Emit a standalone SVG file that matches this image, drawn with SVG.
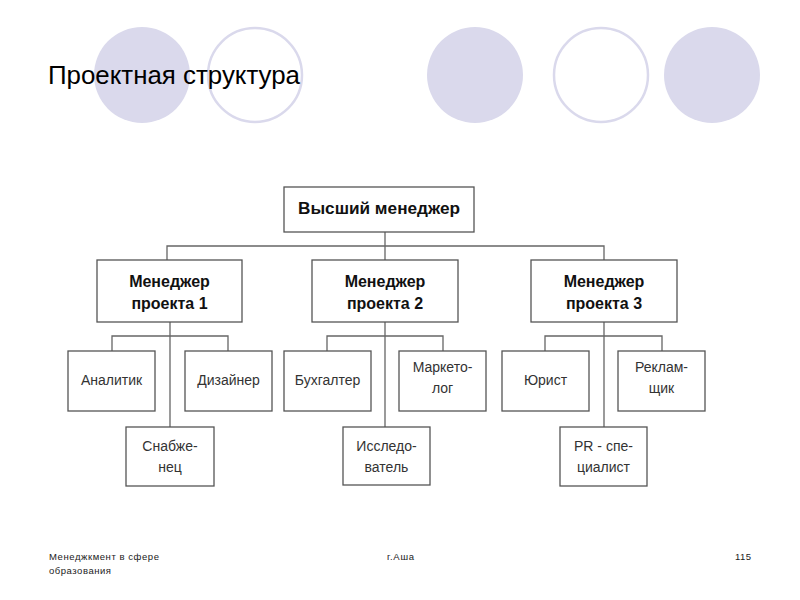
<svg xmlns="http://www.w3.org/2000/svg" width="800" height="600" viewBox="0 0 800 600">
<style>
.cf{fill:#dad9ec;stroke:none}
.co{fill:#fff;stroke:#dad9ec;stroke-width:2.5}
.box{fill:#fff;stroke:#555;stroke-width:1.3}
.ln{fill:none;stroke:#666;stroke-width:1.3}
.b{font-family:"Liberation Sans",Arial,sans-serif;font-weight:bold;font-size:16px;fill:#111;text-anchor:middle}
.r{font-family:"Liberation Sans",Arial,sans-serif;font-size:14px;fill:#333;text-anchor:middle}
.ft{font-family:"Liberation Sans",Arial,sans-serif;font-size:9.5px;fill:#222}
</style>
<rect width="800" height="600" fill="#fff"/>
<g id="decor">
<circle class="cf" cx="142" cy="75" r="48"/>
<circle class="co" cx="255" cy="75" r="47"/>
<circle class="cf" cx="475" cy="75" r="48"/>
<circle class="co" cx="601" cy="75" r="47"/>
<circle class="cf" cx="712" cy="75" r="48"/>
</g>
<text x="48" y="84" font-family="'Liberation Sans',Arial,sans-serif" font-size="25" fill="#000" textLength="252" lengthAdjust="spacingAndGlyphs">Проектная структура</text>
<g id="connectors">
<path class="ln" d="M385 232V260M167 260V246H604V260"/>
<path class="ln" d="M170 322V427M112 351V336H228V351"/>
<path class="ln" d="M385 322V427M327 351V336H443V351"/>
<path class="ln" d="M604 322V427M545 351V336H662V351"/>
</g>
<g id="top"><rect class="box" x="284" y="187" width="190" height="45"/><text class="b" x="379" y="214" font-size="17.5" textLength="162" lengthAdjust="spacingAndGlyphs">Высший менеджер</text></g>
<g id="pm1"><rect class="box" x="97" y="260" width="145" height="62"/><text class="b" x="169.5" y="287">Менеджер</text><text class="b" x="169.5" y="309">проекта 1</text></g>
<g id="pm2"><rect class="box" x="312" y="260" width="146" height="62"/><text class="b" x="385" y="287">Менеджер</text><text class="b" x="385" y="309">проекта 2</text></g>
<g id="pm3"><rect class="box" x="531" y="260" width="146" height="62"/><text class="b" x="604" y="287">Менеджер</text><text class="b" x="604" y="309">проекта 3</text></g>
<g id="analyst"><rect class="box" x="68" y="351" width="87" height="60"/><text class="r" x="111.5" y="385">Аналитик</text></g>
<g id="designer"><rect class="box" x="185" y="351" width="87" height="60"/><text class="r" x="228.5" y="385">Дизайнер</text></g>
<g id="supplier"><rect class="box" x="126" y="427" width="88" height="59"/><text class="r" x="170" y="451">Снабже-</text><text class="r" x="170" y="472">нец</text></g>
<g id="accountant"><rect class="box" x="284" y="351" width="87" height="60"/><text class="r" x="327.5" y="385">Бухгалтер</text></g>
<g id="marketer"><rect class="box" x="399" y="351" width="87" height="60"/><text class="r" x="442.5" y="372">Маркето-</text><text class="r" x="442.5" y="393">лог</text></g>
<g id="researcher"><rect class="box" x="343" y="427" width="87" height="58"/><text class="r" x="386.5" y="451">Исследо-</text><text class="r" x="386.5" y="472">ватель</text></g>
<g id="lawyer"><rect class="box" x="502" y="351" width="87" height="60"/><text class="r" x="545.5" y="385">Юрист</text></g>
<g id="adman"><rect class="box" x="618" y="351" width="87" height="60"/><text class="r" x="661.5" y="372">Реклам-</text><text class="r" x="661.5" y="393">щик</text></g>
<g id="pr"><rect class="box" x="560" y="427" width="87" height="59"/><text class="r" x="603.5" y="451">PR - спе-</text><text class="r" x="603.5" y="472">циалист</text></g>
<g id="footer">
<text class="ft" x="49" y="560" textLength="110" lengthAdjust="spacing">Менеджкмент в сфере</text>
<text class="ft" x="49" y="574" textLength="62" lengthAdjust="spacing">образования</text>
<text class="ft" x="387" y="560" textLength="27" lengthAdjust="spacing">г.Аша</text>
<text class="ft" x="735" y="560" textLength="16" lengthAdjust="spacing">115</text>
</g>
</svg>
